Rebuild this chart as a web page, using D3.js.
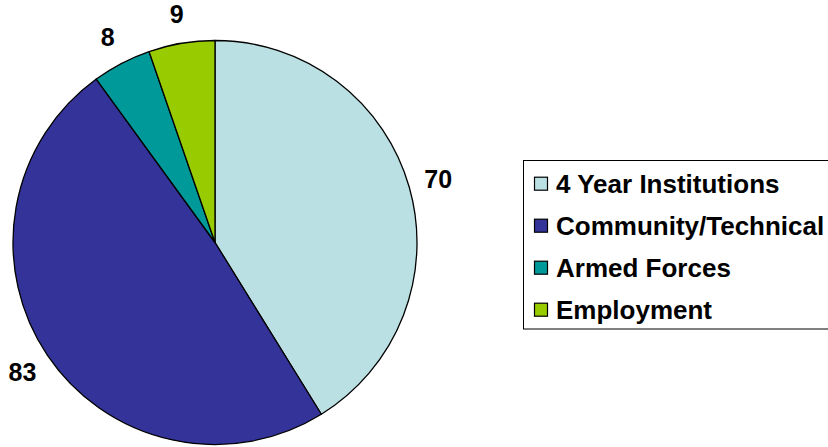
<!DOCTYPE html>
<html>
<head>
<meta charset="utf-8">
<script src="https://cdn.jsdelivr.net/npm/d3@7"></script>
<style>
html,body{margin:0;padding:0;background:#fff;}
svg{display:block;}
text{font-family:"Liberation Sans",Arial,sans-serif;font-weight:bold;fill:#000;}
</style>
</head>
<body>
<svg id="chart" width="828" height="447"></svg>
<script>
const categories = ["4 Year Institutions", "Community/Technical", "Armed Forces", "Employment"];
const values = [70, 83, 8, 9];
const colors = ["#BBE0E3", "#333399", "#009999", "#99CC00"];

const svg = d3.select("#chart");
const cx = 215, cy = 242.5, r = 202;

const pie = d3.pie().sort(null).value(d => d.value);
const data = categories.map((c, i) => ({name: c, value: values[i], color: colors[i]}));
const arcs = pie(data);
const arc = d3.arc().innerRadius(0).outerRadius(r);
const labelArc = d3.arc().innerRadius(232).outerRadius(232);

const g = svg.append("g").attr("transform", `translate(${cx},${cy})`);
g.selectAll("path").data(arcs).join("path")
  .attr("d", arc)
  .attr("fill", d => d.data.color)
  .attr("stroke", "#000")
  .attr("stroke-width", 1.3)
  .attr("stroke-linejoin", "round");

g.selectAll("text.lbl").data(arcs).join("text")
  .attr("class", "lbl")
  .attr("transform", d => `translate(${labelArc.centroid(d)})`)
  .attr("text-anchor", "middle")
  .attr("dy", "0.36em")
  .style("font-size", "25px")
  .text(d => d.data.value);

// legend
const lx = 523.5, ly = 160.5, rowH = 42;
svg.append("rect")
  .attr("x", lx).attr("y", ly)
  .attr("width", 340).attr("height", 168.5)
  .attr("fill", "#fff").attr("stroke", "#000").attr("stroke-width", 1);

const items = svg.selectAll("g.item").data(data).join("g")
  .attr("class", "item")
  .attr("transform", (d, i) => `translate(0,${183.7 + i * rowH})`);
items.append("rect")
  .attr("x", 534.5).attr("y", -6.5)
  .attr("width", 13).attr("height", 13)
  .attr("fill", d => d.color)
  .attr("stroke", "#000").attr("stroke-width", 1.2);
items.append("text")
  .attr("x", 556).attr("y", 9.5)
  .style("font-size", "26px")
  .text(d => d.name);
</script>
</body>
</html>
